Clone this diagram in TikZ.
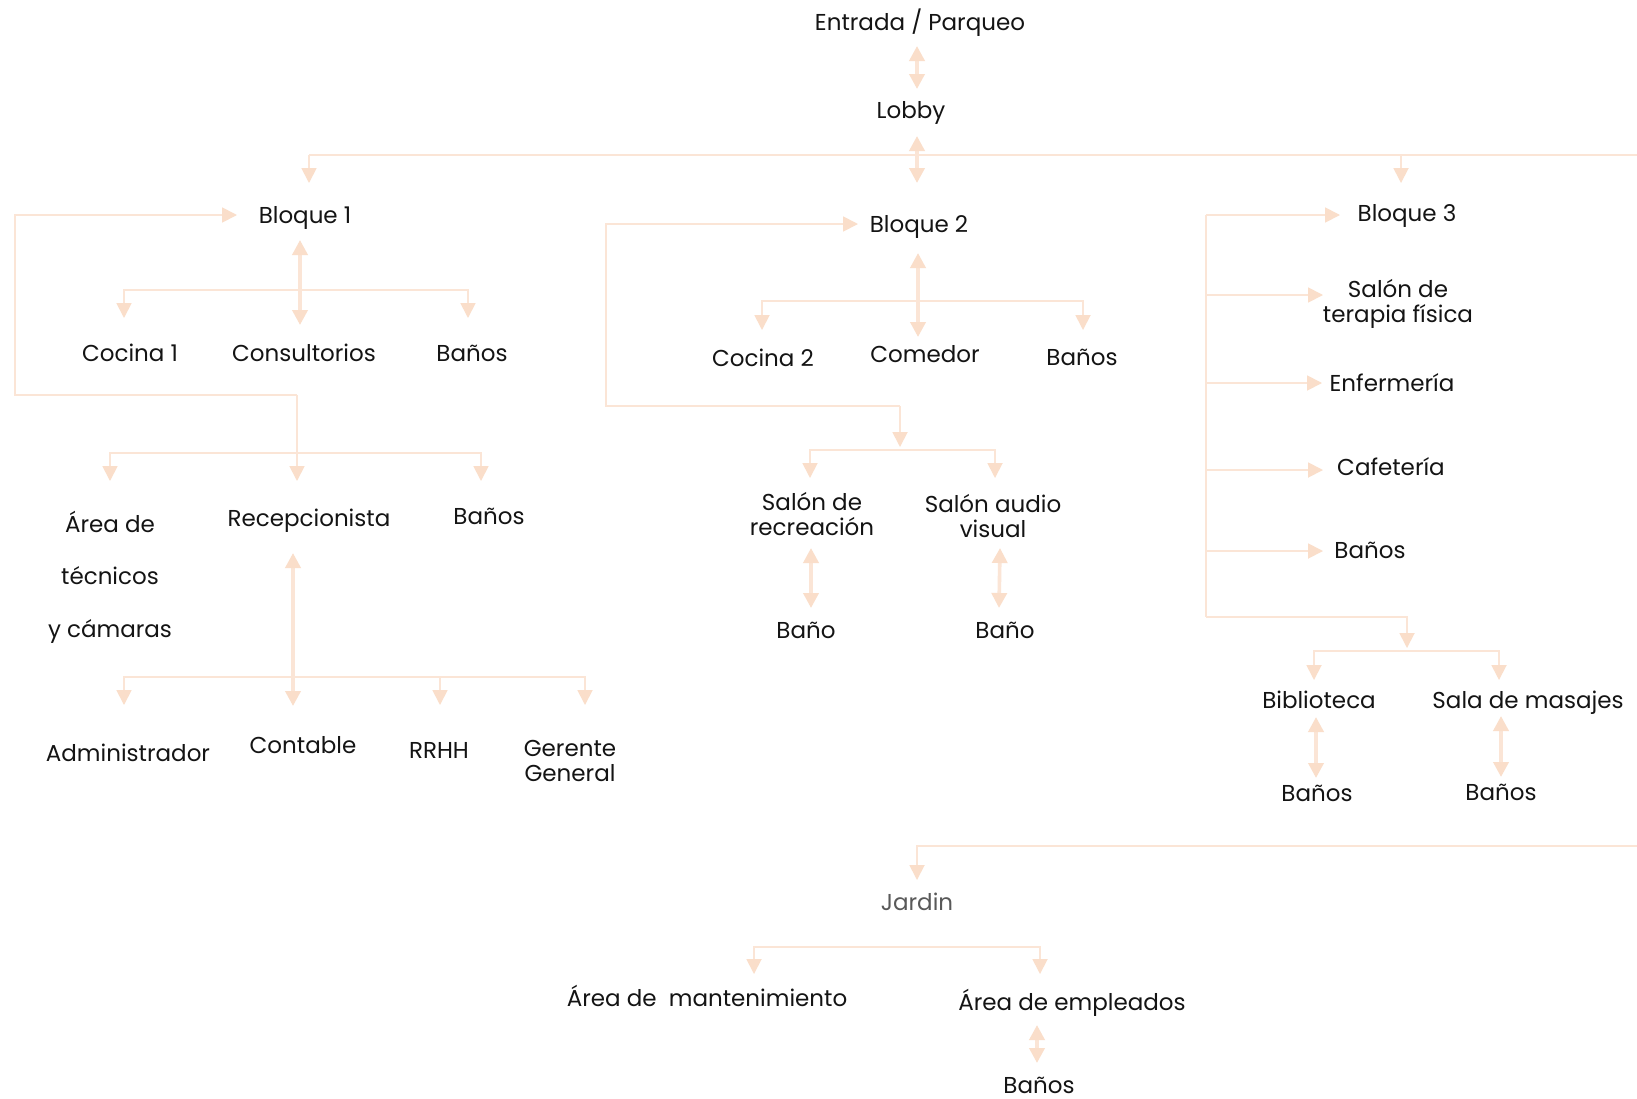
\documentclass[tikz,border=0pt]{standalone}
\usepackage{fontspec}
\setmainfont{Poppins}
\usetikzlibrary{arrows.meta}
\definecolor{peach}{RGB}{251,229,214}
\definecolor{peachtip}{RGB}{250,222,202}
\definecolor{txt}{RGB}{20,20,20}
\definecolor{gris}{RGB}{89,89,89}
\begin{document}
\begin{tikzpicture}[x=1pt,y=-1pt,
  lbl/.style={font=\fontsize{23}{25}\selectfont, text=txt, inner sep=0pt, text height=17pt, text depth=1pt},
  lblm/.style={font=\fontsize{23}{25}\selectfont, text=txt, inner sep=0pt, align=center},
  ln/.style={draw=peach, line width=1.8pt},
  arr/.style={ln, -{Triangle[width=15pt,length=15pt,color=peachtip]}},
  barr/.style={ln, {Triangle[width=15pt,length=15pt,color=peachtip]}-{Triangle[width=15pt,length=15pt,color=peachtip]}},
  darr/.style={draw=peach, line width=3.6pt, {Triangle[width=15pt,length=15pt,color=peachtip]}-{Triangle[width=15pt,length=15pt,color=peachtip]}},
]
\useasboundingbox[fill=white] (0,0) rectangle (1637,1098);

% ---------- nodes ----------
\node[lbl] (entrada) at (920,22) {Entrada / Parqueo};
\node[lbl] (lobby) at (911,110) {Lobby};
\node[lbl] (b1) at (305,215) {Bloque 1};
\node[lbl] (b2) at (919,224) {Bloque 2};
\node[lbl] (b3) at (1407,213) {Bloque 3};

\node[lbl] (coc1) at (130,353) {Cocina 1};
\node[lbl] (cons) at (304,353) {Consultorios};
\node[lbl] (ban1) at (472,353) {Baños};

\node[lblm, font=\fontsize{23}{52.5}\selectfont] (tec) at (110,577) {Área de\\técnicos\\y cámaras};
\node[lbl] (rec) at (309,518) {Recepcionista};
\node[lbl] (ban2) at (489,516) {Baños};

\node[lbl] (adm) at (128,753) {Administrador};
\node[lbl] (cont) at (303,745) {Contable};
\node[lbl] (rrhh) at (439,750) {RRHH};
\node[lblm] (ger) at (570,761) {Gerente\\General};

\node[lbl] (coc2) at (763,358) {Cocina 2};
\node[lbl] (com) at (925,354) {Comedor};
\node[lbl] (ban3) at (1082,357) {Baños};

\node[lblm] (srec) at (812,514) {Salón de\\recreación};
\node[lblm] (saud) at (993,516) {Salón audio\\visual};
\node[lbl] (bano1) at (806,630) {Baño};
\node[lbl] (bano2) at (1005,630) {Baño};

\node[lblm] (ter) at (1398,304) {Salón de\\terapia física};
\node[lbl] (enf) at (1392,383) {Enfermería};
\node[lbl] (caf) at (1391,467) {Cafetería};
\node[lbl] (ban4) at (1370,550) {Baños};
\node[lbl] (bib) at (1319,700) {Biblioteca};
\node[lbl] (mas) at (1528,700) {Sala de masajes};
\node[lbl] (ban5) at (1317,793) {Baños};
\node[lbl] (ban6) at (1501,792) {Baños};

\node[lbl, text=gris] (jar) at (917,902) {Jardin};
\node[lbl] (mant) at (707,998) {Área de\ \ mantenimiento};
\node[lbl] (emp) at (1072,1002) {Área de empleados};
\node[lbl] (ban7) at (1039,1085) {Baños};

% ---------- coordinates ----------
\coordinate (eT) at (917,46);   \coordinate (eB) at (917,89);
\coordinate (lT) at (917,136);  \coordinate (lB) at (917,183);
\coordinate (m1) at (309,155);  \coordinate (m3) at (1401,155);  \coordinate (mR) at (1637,155);
\coordinate (b1t) at (309,183); \coordinate (b3t) at (1401,183);

% Bloque 1
\coordinate (lp1) at (297,395); \coordinate (lp2) at (15,215); \coordinate (b1a) at (237,215);
\coordinate (rect) at (297,481);
\coordinate (d1T) at (300,240); \coordinate (d1B) at (300,325);
\coordinate (k1a) at (124,318); \coordinate (k1b) at (124,290); \coordinate (k1c) at (468,290); \coordinate (k1d) at (468,318);
\coordinate (k2a) at (110,481); \coordinate (k2b) at (110,453); \coordinate (k2c) at (481,453); \coordinate (k2d) at (481,481);
\coordinate (d2T) at (293,553); \coordinate (d2B) at (293,706);
\coordinate (k3a) at (124,705); \coordinate (k3b) at (124,677); \coordinate (k3c) at (585,677); \coordinate (k3d) at (585,705);
\coordinate (k3e) at (440,677); \coordinate (k3f) at (440,705);

% Bloque 2
\coordinate (lp3) at (900,406); \coordinate (lp4) at (606,224); \coordinate (b2a) at (858,224);
\coordinate (lp5) at (900,447);
\coordinate (d3T) at (918,253); \coordinate (d3B) at (918,337);
\coordinate (k4a) at (762,330); \coordinate (k4b) at (762,301); \coordinate (k4c) at (1083,301); \coordinate (k4d) at (1083,330);
\coordinate (k5a) at (810,478); \coordinate (k5b) at (810,450); \coordinate (k5c) at (995,450); \coordinate (k5d) at (995,478);
\coordinate (d4T) at (811,548); \coordinate (d4B) at (811,608);
\coordinate (d5T) at (1000,548); \coordinate (d5B) at (999,608);

% Bloque 3
\coordinate (v1) at (1206,215); \coordinate (v2) at (1206,617);
\coordinate (v3) at (1206,295); \coordinate (v4) at (1206,383); \coordinate (v5) at (1206,470); \coordinate (v6) at (1206,551);
\coordinate (a1) at (1340,215); \coordinate (a2) at (1323,295); \coordinate (a3) at (1322,383); \coordinate (a4) at (1323,470); \coordinate (a5) at (1323,551);
\coordinate (v7) at (1407,648);
\coordinate (k6a) at (1314,680); \coordinate (k6b) at (1314,651); \coordinate (k6c) at (1499,651); \coordinate (k6d) at (1499,680);
\coordinate (d6T) at (1316,717); \coordinate (d6B) at (1316,778);
\coordinate (d7T) at (1501,716); \coordinate (d7B) at (1501,777);

% Bottom
\coordinate (jR) at (1637,846); \coordinate (jT) at (917,880);
\coordinate (k7a) at (754,974); \coordinate (k7b) at (754,947); \coordinate (k7c) at (1040,947); \coordinate (k7d) at (1040,974);
\coordinate (d8T) at (1037,1025); \coordinate (d8B) at (1037,1063);

% ---------- connectors ----------
\draw[darr] (eT) -- (eB);
\draw[ln] (m1) -- (mR);
\draw[darr] (lT) -- (lB);
\draw[arr] (m1) -- (b1t);
\draw[arr] (m3) -- (b3t);

\draw[arr] (lp1) -| (lp2) -- (b1a);
\draw[arr] (lp1) -- (rect);
\draw[barr] (k1a) -- (k1b) -- (k1c) -- (k1d);
\draw[darr] (d1T) -- (d1B);
\draw[barr] (k2a) -- (k2b) -- (k2c) -- (k2d);
\draw[barr] (k3a) -- (k3b) -- (k3c) -- (k3d);
\draw[arr] (k3e) -- (k3f);
\draw[darr] (d2T) -- (d2B);

\draw[arr] (lp3) -| (lp4) -- (b2a);
\draw[arr] (lp3) -- (lp5);
\draw[barr] (k4a) -- (k4b) -- (k4c) -- (k4d);
\draw[darr] (d3T) -- (d3B);
\draw[barr] (k5a) -- (k5b) -- (k5c) -- (k5d);
\draw[darr] (d4T) -- (d4B);
\draw[darr] (d5T) -- (d5B);

\draw[ln] (v1) -- (v2);
\draw[arr] (v1) -- (a1);
\draw[arr] (v3) -- (a2);
\draw[arr] (v4) -- (a3);
\draw[arr] (v5) -- (a4);
\draw[arr] (v6) -- (a5);
\draw[arr] (v2) -| (v7);
\draw[barr] (k6a) -- (k6b) -- (k6c) -- (k6d);
\draw[darr] (d6T) -- (d6B);
\draw[darr] (d7T) -- (d7B);

\draw[arr] (jR) -| (jT);
\draw[barr] (k7a) -- (k7b) -- (k7c) -- (k7d);
\draw[darr] (d8T) -- (d8B);
\end{tikzpicture}
\end{document}
